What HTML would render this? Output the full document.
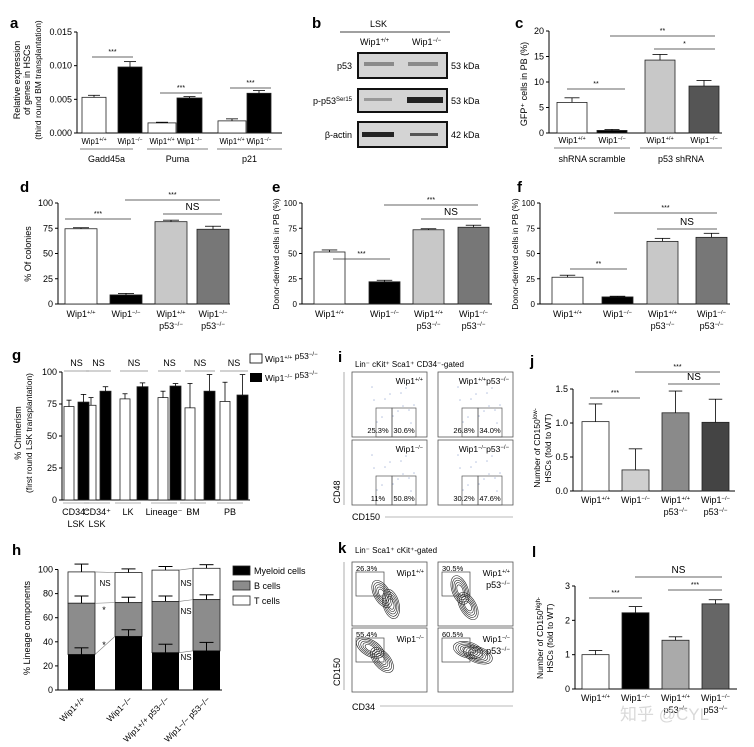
<!DOCTYPE html>
<html><head><meta charset="utf-8"><style>
html,body{margin:0;padding:0;background:#fff;}
svg{display:block;font-family:"Liberation Sans","Noto Sans CJK SC",sans-serif;}
</style></head><body>
<svg id="fig" width="754" height="747" viewBox="0 0 754 747" xmlns="http://www.w3.org/2000/svg">
<rect x="0" y="0" width="754" height="747" fill="#fff"/>
<g>
<text x="312" y="28" font-size="15" font-weight="bold">b</text>
<line x1="340" y1="32" x2="450" y2="32" stroke="#000" stroke-width="0.8"/>
<text x="370" y="27" font-size="9">LSK</text>
<text x="360" y="45" font-size="9">Wip1<tspan font-size="6" dy="-3">+/+</tspan></text>
<text x="412" y="45" font-size="9">Wip1<tspan font-size="6" dy="-3">−/−</tspan></text>
<rect x="358" y="53" width="89" height="25" fill="#d4d4d4" stroke="#111" stroke-width="2"/>
<rect x="364" y="62" width="30" height="4" fill="#8a8a8a"/>
<rect x="408" y="62" width="30" height="4" fill="#8a8a8a"/>
<rect x="358" y="89" width="89" height="23" fill="#d4d4d4" stroke="#111" stroke-width="2"/>
<rect x="364" y="98" width="28" height="3" fill="#999"/>
<rect x="407" y="97" width="36" height="6" fill="#222"/>
<rect x="358" y="122" width="89" height="25" fill="#d4d4d4" stroke="#111" stroke-width="2"/>
<rect x="362" y="132" width="32" height="5" fill="#222"/>
<rect x="410" y="133" width="28" height="3" fill="#555"/>
<text x="352" y="69" font-size="9" text-anchor="end">p53</text>
<text x="352" y="104" font-size="9" text-anchor="end">p-p53<tspan font-size="6" dy="-3">Ser15</tspan></text>
<text x="352" y="138" font-size="9" text-anchor="end">β-actin</text>
<text x="451" y="69" font-size="9">53 kDa</text>
<text x="451" y="104" font-size="9">53 kDa</text>
<text x="451" y="138" font-size="9">42 kDa</text>
</g>
</svg>
<script>
// ---------- data ----------
const aCategories=['Gadd45a','Puma','p21'];
const aValues=[0.0053,0.0098,0.0015,0.0052,0.0018,0.0059];
const aErrors=[0.0003,0.0008,0.0001,0.0002,0.0003,0.0004];
const aTicks=[0,0.005,0.010,0.015];
const aTickLabels=['0.000','0.005','0.010','0.015'];
const cGroups=['shRNA scramble','p53 shRNA'];
const cValues=[6.0,0.5,14.3,9.2];
const cErrors=[0.9,0.2,1.1,1.1];
const cTicks=[0,5,10,15,20];
const dValues=[74.5,9,81.5,74];
const dErrors=[1,1.5,1.5,3];
const eValues=[51.5,22,73.5,76];
const eErrors=[2,1.5,1,2];
const fValues=[26.5,7,62,66];
const fErrors=[2,0.7,3,4];
const pctTicks=[0,25,50,75,100];
const gCategories=[['CD34⁻','LSK'],['CD34⁺','LSK'],['LK',''],['Lineage⁻',''],['BM',''],['PB','']];
const gWhite=[73,74,79,80,72,77];
const gWhiteErr=[5,6,4,5,19,15];
const gBlack=[76.5,85,88.5,89,85,82];
const gBlackErr=[6,3.5,3,2,13,16];
const hGroups=['Wip1+/+','Wip1−/−','Wip1+/+ p53−/−','Wip1−/− p53−/−'];
const hMyeloid=[29.5,44.5,31,32.5];
const hMyeloidErr=[5.5,5.5,7,7];
const hBTop=[72,72.5,73.5,75];
const hBErr=[6,4.5,4.5,4];
const hTotal=[98,97.5,99.5,101];
const hTotalErr=[6.5,3,3,3];
const hTicks=[0,20,40,60,80,100];
const jValues=[1.02,0.31,1.15,1.01];
const jErrors=[0.26,0.31,0.32,0.34];
const jTicks=[0,0.5,1.0,1.5];
const jTickLabels=['0.0','0.5','1.0','1.5'];
const lValues=[1.0,2.22,1.42,2.48];
const lErrors=[0.12,0.18,0.1,0.12];
const lTicks=[0,1,2,3];

// ---------- helpers ----------
const NS='http://www.w3.org/2000/svg';
const svg=document.getElementById('fig');
function el(tag,attrs,name,parent){
  const e=document.createElementNS(NS,tag);
  for(const k in attrs) e.setAttribute(k,attrs[k]);
  
  
  (parent||svg).appendChild(e);
  return e;
}
function txt(x,y,s,size,name,opts,parent){
  const t=el('text',Object.assign({x:x,y:y,'font-size':size},opts||{}),name,parent);
  t.textContent=s;return t;
}
function wip(x,y,sup,name,size,anchor,parent){
  const t=el('text',{x:x,y:y,'font-size':size||9,'text-anchor':anchor||'middle'},name,parent);
  t.appendChild(document.createTextNode('Wip1'));
  const s=document.createElementNS(NS,'tspan');s.setAttribute('font-size',(size||9)*0.65);s.setAttribute('dy',-3);s.textContent=sup;t.appendChild(s);
  return t;
}
function p53(x,y,name,parent){
  const t=el('text',{x:x,y:y,'font-size':9,'text-anchor':'middle'},name,parent);
  t.appendChild(document.createTextNode('p53'));
  const s=document.createElementNS(NS,'tspan');s.setAttribute('font-size',6);s.setAttribute('dy',-3);s.textContent='−/−';t.appendChild(s);
}
function line(x1,y1,x2,y2,name,w,c,parent){return el('line',{x1:x1,y1:y1,x2:x2,y2:y2,stroke:c||'#000','stroke-width':w||0.8},name,parent);}
function ytitle(x,y,s,name,size){return txt(x,y,s,size||9,name,{'text-anchor':'middle',transform:'rotate(-90 '+x+' '+y+')'});}
function sig(x1,x2,y,s,name){line(x1,y,x2,y,name+'-line',0.8,'#333');txt((x1+x2)/2,y-(s==='NS'?4:3),s,s==='NS'?10:7,name+'-text',{'text-anchor':'middle'});}

function axisY(ax,y0,yt,vmax,ticks,labels,xEnd,name,fs){
  const sc=v=>y0-v/vmax*(y0-yt);
  line(ax,sc(ticks[ticks.length-1]),ax,y0,name+'-y-axis',1);
  line(ax,y0,xEnd,y0,name+'-x-axis',1);
  ticks.forEach((t,i)=>{
    line(ax-3,sc(t),ax,sc(t),name+'-tick-'+i,1);
    txt(ax-5,sc(t)+3,labels?labels[i]:String(t),fs||9,name+'-tick-label-'+i,{'text-anchor':'end'});
  });
  return sc;
}
function bars(sc,xs,w,vals,errs,fills,name){
  vals.forEach((v,i)=>{
    const y=sc(v),y0=sc(0);
    el('rect',{x:xs[i],y:y,width:w,height:y0-y,fill:fills[i],stroke:'#222','stroke-width':0.8},name+'-bar-'+i);
    const cx=xs[i]+w/2,ye=sc(v+errs[i]);
    line(cx,y,cx,ye,name+'-error-'+i,0.8);
    line(cx-w/4,ye,cx+w/4,ye,name+'-error-cap-'+i,0.8);
  });
}
function fourLabels(xs,w,y,name){
  const sups=['+/+','−/−','+/+','−/−'];
  xs.forEach((x,i)=>{wip(x+w/2,y,sups[i],name+'-xlabel-'+i);if(i>1)p53(x+w/2,y+12,name+'-xlabel-p53-'+i);});
}

// ---------- panel a ----------
txt(10,28,'a',15,'panel-label-a',{'font-weight':'bold'});
ytitle(20,80,'Relative expression','a-y-title-1');
ytitle(30,80,'of genes in HSCs','a-y-title-2');
ytitle(41,80,'(third round BM transplantation)','a-y-title-3',8.5);
{
const sc=axisY(77,133,32,0.015,aTicks,aTickLabels,282,'a');
const xs=[82,118,148,177,218,247],w=[24,24,28,25,28,24];
aValues.forEach((v,i)=>{
  const y=sc(v);
  el('rect',{x:xs[i],y:y,width:w[i],height:sc(0)-y,fill:i%2?'#000':'#fff',stroke:'#222','stroke-width':0.8},'a-bar-'+i);
  const cx=xs[i]+w[i]/2,ye=sc(v+aErrors[i]);
  line(cx,y,cx,ye,'a-error-'+i);line(cx-6,ye,cx+6,ye,'a-error-cap-'+i);
  wip(cx,144,i%2?'−/−':'+/+','a-xlabel-'+i,7.8);
});
const gl=[[80,133],[147,208],[217,282]];
aCategories.forEach((c,i)=>{line(gl[i][0],149,gl[i][1],149,'a-group-line-'+i,0.8,'#555');txt((gl[i][0]+gl[i][1])/2,162,c,9,'a-group-label-'+i,{'text-anchor':'middle'});});
sig(92,133,57,'***','a-sig-gadd45a');sig(160,202,93,'***','a-sig-puma');sig(230,271,88,'***','a-sig-p21');
}
// ---------- panel c ----------
txt(515,28,'c',15,'panel-label-c',{'font-weight':'bold'});
ytitle(527,84,'GFP⁺ cells in PB (%)','c-y-title');
{
const sc=axisY(549,133,31,20,cTicks,null,722,'c');
const xs=[557,597,645,689];
bars(sc,xs,30,cValues,cErrors,['#fff','#000','#c8c8c8','#555'],'c');
['+/+','−/−','+/+','−/−'].forEach((s,i)=>wip(xs[i]+15,143,s,'c-xlabel-'+i,8.5));
line(554,148,630,148,'c-group-line-0',0.8,'#555');line(640,148,722,148,'c-group-line-1',0.8,'#555');
txt(592,162,cGroups[0],9,'c-group-label-0',{'text-anchor':'middle'});txt(681,162,cGroups[1],9,'c-group-label-1',{'text-anchor':'middle'});
sig(567,625,89,'**','c-sig-scramble');sig(610,715,36,'**','c-sig-top');sig(654,715,49,'*','c-sig-p53');
}
// ---------- panels d e f ----------
txt(20,192,'d',15,'panel-label-d',{'font-weight':'bold'});
txt(272,192,'e',15,'panel-label-e',{'font-weight':'bold'});
txt(517,192,'f',15,'panel-label-f',{'font-weight':'bold'});
ytitle(31,254,'% Of colonies','d-y-title');
ytitle(279,254,'Donor-derived cells in PB (%)','e-y-title',8.5);
ytitle(518,254,'Donor-derived cells in PB (%)','f-y-title',8.5);
const gray4=['#fff','#000','#c8c8c8','#777'];
{
const sc=axisY(58,304,203,100,pctTicks,null,230,'d');
const xs=[65,110,155,197];bars(sc,xs,32,dValues,dErrors,gray4,'d');fourLabels(xs,32,317,'d');
sig(65,131,219,'***','d-sig-1');sig(125,220,200,'***','d-sig-2');sig(163,222,214,'NS','d-sig-ns');
}
{
const sc=axisY(302,304,203,100,pctTicks,null,492,'e',8);
const xs=[314,369,413,458];bars(sc,xs,31,eValues,eErrors,gray4,'e');fourLabels(xs,31,317,'e');
sig(333,390,259,'***','e-sig-1');sig(384,478,205,'***','e-sig-2');sig(421,481,219,'NS','e-sig-ns');
}
{
const sc=axisY(540,304,203,100,pctTicks,null,730,'f',8);
const xs=[552,602,647,696];bars(sc,xs,31,fValues,fErrors,gray4,'f');fourLabels(xs,31,317,'f');
sig(570,627,269,'**','f-sig-1');sig(614,717,213,'***','f-sig-2');sig(657,717,229,'NS','f-sig-ns');
}
// ---------- panel g ----------
txt(12,360,'g',15,'panel-label-g',{'font-weight':'bold'});
ytitle(21,433,'% Chimerism','g-y-title-1');
ytitle(32,433,'(first round LSK transplantation)','g-y-title-2',8.5);
{
const sc=axisY(62,500,372,100,pctTicks,null,250,'g');
const wx=[64,86,120,158,185,220],bx=[78,100,137,170,204,237];
bars(sc,wx,10,gWhite,gWhiteErr,gWhite.map(()=>'#fff'),'g-wt');
bars(sc,bx,11,gBlack,gBlackErr,gBlack.map(()=>'#000'),'g-ko');
const lc=[76,97,128,164,193,230];
gCategories.forEach((c,i)=>{
  line(wx[i],371,bx[i]+11,371,'g-ns-line-'+i,0.8,'#888');
  txt((wx[i]+bx[i]+11)/2,366,'NS',9,'g-ns-text-'+i,{'text-anchor':'middle'});
  line(lc[i]-13,503,lc[i]+13,503,'g-group-line-'+i,0.8,'#999');
  txt(lc[i],515,c[0],9,'g-xlabel-'+i,{'text-anchor':'middle'});
  if(c[1])txt(lc[i],527,c[1],9,'g-xlabel2-'+i,{'text-anchor':'middle'});
});
el('rect',{x:250,y:354,width:12,height:9,fill:'#fff',stroke:'#000','stroke-width':0.8},'g-legend-swatch-wt');
el('rect',{x:250,y:373,width:12,height:9,fill:'#000'},'g-legend-swatch-ko');
const l1=wip(265,362,'+/+','g-legend-label-wt',8.5,'start');l1.appendChild(document.createTextNode(' p53'));
let s=document.createElementNS(NS,'tspan');s.setAttribute('font-size',6);s.setAttribute('dy',-3);s.textContent='−/−';l1.appendChild(s);
const l2=wip(265,381,'−/−','g-legend-label-ko',8.5,'start');l2.appendChild(document.createTextNode(' p53'));
s=document.createElementNS(NS,'tspan');s.setAttribute('font-size',6);s.setAttribute('dy',-3);s.textContent='−/−';l2.appendChild(s);
}
// ---------- panel h ----------
txt(12,555,'h',15,'panel-label-h',{'font-weight':'bold'});
ytitle(30,628,'% Lineage components','h-y-title');
{
const sc=axisY(58,690,569.5,100,hTicks,null,222,'h');
const xs=[68,115,152,193],w=27;
hGroups.forEach((g,i)=>{
  const x=xs[i];
  el('rect',{x:x,y:sc(hTotal[i]),width:w,height:sc(hBTop[i])-sc(hTotal[i]),fill:'#fff',stroke:'#222','stroke-width':0.8},'h-tcells-'+i);
  el('rect',{x:x,y:sc(hBTop[i]),width:w,height:sc(hMyeloid[i])-sc(hBTop[i]),fill:'#8c8c8c',stroke:'#222','stroke-width':0.8},'h-bcells-'+i);
  el('rect',{x:x,y:sc(hMyeloid[i]),width:w,height:sc(0)-sc(hMyeloid[i]),fill:'#000'},'h-myeloid-'+i);
  [[hTotal,hTotalErr],[hBTop,hBErr],[hMyeloid,hMyeloidErr]].forEach((p,k)=>{
    const y=sc(p[0][i]),ye=sc(p[0][i]+p[1][i]);
    line(x+w/2,y,x+w/2,ye,'h-error-'+k+'-'+i,1);line(x+w/2-7,ye,x+w/2+7,ye,'h-error-cap-'+k+'-'+i,1);
  });
  const t=el('text',{x:x+w/2+4,y:700,'font-size':8.5,'text-anchor':'end',transform:'rotate(-45 '+(x+w/2+4)+' 700)'},'h-xlabel-'+i);
  t.textContent=g;
});
[[0,1],[2,3]].forEach((p,k)=>{
  const a=xs[p[0]]+w,b=xs[p[1]];
  line(a,sc(hTotal[p[0]]),b,sc(hTotal[p[1]]),'h-conn-t-'+k,0.6,'#777');
  line(a,sc(hBTop[p[0]]),b,sc(hBTop[p[1]]),'h-conn-b-'+k,0.6,'#777');
  line(a,sc(hMyeloid[p[0]]),b,sc(hMyeloid[p[1]]),'h-conn-m-'+k,0.6,'#777');
});
txt(105,586,'NS',8,'h-ns-t-0',{'text-anchor':'middle'});txt(104,613,'*',9,'h-sig-b-0',{'text-anchor':'middle'});txt(104,648,'*',9,'h-sig-m-0',{'text-anchor':'middle'});
txt(186,586,'NS',8,'h-ns-t-1',{'text-anchor':'middle'});txt(186,614,'NS',8,'h-ns-b-1',{'text-anchor':'middle'});txt(186,660,'NS',8,'h-ns-m-1',{'text-anchor':'middle'});
const lg=[['#000','Myeloid cells'],['#8c8c8c','B cells'],['#fff','T cells']];
lg.forEach((l,i)=>{el('rect',{x:233,y:566+i*15,width:17,height:9,fill:l[0],stroke:'#222','stroke-width':0.8},'h-legend-swatch-'+i);txt(254,574+i*15,l[1],9,'h-legend-label-'+i);});
}
// ---------- panel i ----------
txt(338,362,'i',15,'panel-label-i',{'font-weight':'bold'});
txt(355,367,'Lin⁻ cKit⁺ Sca1⁺ CD34⁻-gated',8,'i-title');
line(344,372,344,505,'i-y-axis',0.6,'#777');
ytitle(340,492,'CD48','i-y-label',9);
txt(352,520,'CD150',9,'i-x-label');line(385,517,513,517,'i-x-axis',0.6,'#777');
{
const boxes=[[352,372,'+/+','','25.3%','30.6%'],[438,372,'+/+','p53','26.8%','34.0%'],[352,440,'−/−','','11%','50.8%'],[438,440,'−/−','p53','30.2%','47.6%']];
boxes.forEach((b,i)=>{
  const x=b[0],y=b[1],w=75,h=65;
  el('rect',{x:x,y:y,width:w,height:h,fill:'#fff',stroke:'#555','stroke-width':0.8},'i-plot-'+i);
  for(let k=0;k<14;k++){el('circle',{cx:x+20+((k*37)%45),cy:y+15+((k*23)%40),r:0.8,fill:'#b8c4e0'},'i-dot-'+i+'-'+k);}
  el('rect',{x:x+24,y:y+36,width:16,height:29,fill:'none',stroke:'#555','stroke-width':0.7},'i-gate-left-'+i);
  el('rect',{x:x+40,y:y+36,width:24,height:29,fill:'none',stroke:'#555','stroke-width':0.7},'i-gate-right-'+i);
  txt(x+26,y+61,b[4],7.5,'i-pct-left-'+i,{'text-anchor':'middle'});
  txt(x+52,y+61,b[5],7.5,'i-pct-right-'+i,{'text-anchor':'middle'});
  const t=wip(x+w-4,y+12,b[2],'i-genotype-'+i,8.5,'end');
  if(b[3]){const s1=document.createElementNS(NS,'tspan');s1.setAttribute('dy',3);s1.setAttribute('font-size',8.5);s1.textContent='p53';t.appendChild(s1);const s2=document.createElementNS(NS,'tspan');s2.setAttribute('dy',-3);s2.setAttribute('font-size',6);s2.textContent='−/−';t.appendChild(s2);}
});
}
// ---------- panel k ----------
txt(338,553,'k',15,'panel-label-k',{'font-weight':'bold'});
txt(355,553,'Lin⁻ Sca1⁺ cKit⁺-gated',8,'k-title');
line(344,562,344,690,'k-y-axis',0.6,'#777');
ytitle(340,672,'CD150','k-y-label',9);
txt(352,710,'CD34',9,'k-x-label');line(380,706,513,706,'k-x-axis',0.6,'#777');
{
const kb=[[352,562,'26.3%','+/+',false,[[382,594,60],[391,604,75]]],[438,562,'30.5%','+/+',true,[[460,590,70],[468,606,60]]],[352,628,'55.4%','−/−',false,[[370,648,30],[382,660,50]]],[438,628,'60.5%','−/−',true,[[468,650,15],[478,655,20]]]];
kb.forEach((b,i)=>{
  const x=b[0],y=b[1];
  el('rect',{x:x,y:y,width:75,height:64,fill:'#fff',stroke:'#555','stroke-width':0.8},'k-plot-'+i);
  b[5].forEach((c,j)=>{for(let r=1;r<=5;r++){el('ellipse',{cx:c[0],cy:c[1],rx:3+r*2.4,ry:1.5+r*1.3,transform:'rotate('+c[2]+' '+c[0]+' '+c[1]+')',fill:'none',stroke:'#222','stroke-width':0.6},'k-contour-'+i+'-'+j+'-'+r);}});
  el('rect',{x:x+4,y:y+10,width:28,height:24,fill:'none',stroke:'#444','stroke-width':0.7},'k-gate-'+i);
  txt(x+4,y+9,b[2],7.5,'k-pct-'+i);
  wip(x+72,y+14,b[3],'k-genotype-'+i,8.5,'end');
  if(b[4])p53(x+60,y+26,'k-genotype-p53-'+i);
});
}
// ---------- panel j ----------
txt(530,366,'j',15,'panel-label-j',{'font-weight':'bold'});
{
const t=ytitle(540,448,'Number of CD150','j-y-title-1',8.5);const s=document.createElementNS(NS,'tspan');s.setAttribute('font-size',6);s.setAttribute('dy',-3);s.textContent='low-';t.appendChild(s);
ytitle(551,448,'HSCs (fold to WT)','j-y-title-2',8.5);
const sc=axisY(573,491,389,1.5,jTicks,jTickLabels,735,'j');
const xs=[582,622,662,702];bars(sc,xs,27,jValues,jErrors,['#fff','#cfcfcf','#8a8a8a','#444'],'j');fourLabels(xs,27,503,'j');
sig(590,640,398,'***','j-sig-1');sig(635,720,372,'***','j-sig-2');sig(668,720,384,'NS','j-sig-ns');
}
// ---------- panel l ----------
txt(532,557,'l',15,'panel-label-l',{'font-weight':'bold'});
{
const t=ytitle(543,638,'Number of CD150','l-y-title-1',8.5);const s=document.createElementNS(NS,'tspan');s.setAttribute('font-size',6);s.setAttribute('dy',-3);s.textContent='high-';t.appendChild(s);
ytitle(553,638,'HSCs (fold to WT)','l-y-title-2',8.5);
const sc=axisY(575,689,586,3,lTicks,null,737,'l');
const xs=[582,622,662,702];bars(sc,xs,27,lValues,lErrors,['#fff','#000','#aaa','#666'],'l');fourLabels(xs,27,701,'l');
sig(589,642,598,'***','l-sig-1');sig(635,722,577,'NS','l-sig-ns');sig(668,722,590,'***','l-sig-2');
txt(620,720,'知乎 @CYL',17,'watermark',{fill:'#d0d0d0','fill-opacity':0.8});
}
</script>
</body></html>
